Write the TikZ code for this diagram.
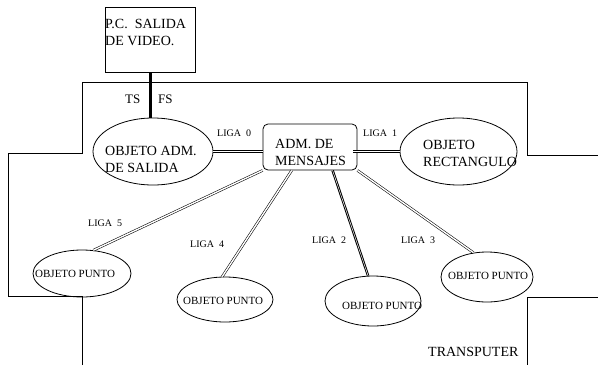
\documentclass[tikz,border=0pt]{standalone}
\usepackage{fontspec}
\setmainfont{Liberation Serif}
\usetikzlibrary{shapes.geometric,calc}
\begin{document}
\begin{tikzpicture}[x=1pt,y=-1pt,
  wire/.style={line width=0.8pt},
  link/.style={double, double distance=1.4pt, line width=0.55pt},
  darklink/.style={double, double distance=0.5pt, line width=1pt},
  obj/.style={ellipse, draw, line width=0.8pt, inner sep=0pt},
  big/.style={font=\fontsize{14}{17}\selectfont, align=left, inner sep=0pt, anchor=west},
  small/.style={font=\fontsize{11}{13}\selectfont, inner sep=0pt, anchor=west},
  liga/.style={font=\fontsize{10}{12}\selectfont, inner sep=0pt, anchor=west},
  tag/.style={font=\fontsize{13}{15}\selectfont, inner sep=0pt, anchor=west},
]
\useasboundingbox (0,0) rectangle (598,365);

% transputer outline
\draw[wire] (82,365) -- (82,296) -- (8,296) -- (8,153) -- (82,153) -- (82,82)
  -- (527,82) -- (527,155) -- (598,155);
\draw[wire] (598,297) -- (527,297) -- (527,365);

% shapes
\node[draw, wire, minimum width=90pt, minimum height=65pt, inner sep=0pt] (pc) at (150,39.5) {};
\node[obj, minimum width=120pt, minimum height=67pt] (osal) at (153,151.5) {};
\node[draw, wire, rounded corners=5pt, minimum width=94pt, minimum height=46pt, inner sep=0pt] (adm) at (310,147) {};
\node[obj, minimum width=117pt, minimum height=67pt] (orect) at (458.5,151.5) {};
\node[obj, minimum width=98pt, minimum height=47pt] (p1) at (82,273.5) {};
\node[obj, minimum width=96pt, minimum height=45pt] (p2) at (225,299.5) {};
\node[obj, minimum width=96pt, minimum height=50pt] (p3) at (373,301) {};
\node[obj, minimum width=92pt, minimum height=50pt] (p4) at (487,277) {};

% texts
\node[big] at (105,32.5) {P.C.\ \ SALIDA\\DE VIDEO.};
\node[big] at (105,159) {OBJETO ADM.\\DE SALIDA};
\node[big] at (275,152.5) {ADM. DE\\MENSAJES};
\node[big] at (423,153.5) {OBJETO\\RECTANGULO};
\node[small] at (35,274) {OBJETO PUNTO};
\node[small] at (183,301) {OBJETO PUNTO};
\node[small] at (342,306) {OBJETO PUNTO};
\node[small] at (448,276) {OBJETO PUNTO};
\node[big] at (428,352) {TRANSPUTER};
\node[tag] at (125,99) {TS};
\node[tag] at (158,99) {FS};

% links
\draw[line width=3pt] (pc.south) -- (pc.south |- osal.north);
\draw[link] (osal.east) -- (osal.east -| adm.west);
\draw[link] (orect.west) -- ($(orect.west -| adm.east)+(-4,0)$);
\draw[link] (adm.south west) -- (p1.64);
\draw[link] (adm.232) -- (p2.97);
\draw[darklink] (adm.-46) -- (p3.101);
\draw[link] (adm.south east) -- (p4.119);

% link labels
\node[liga] at (217,133) {LIGA\hspace{5pt}0};
\node[liga] at (363,133) {LIGA\hspace{5pt}1};
\node[liga] at (88,223) {LIGA\hspace{5pt}5};
\node[liga] at (190,244) {LIGA\hspace{5pt}4};
\node[liga] at (312,240) {LIGA\hspace{5pt}2};
\node[liga] at (401,240) {LIGA\hspace{5pt}3};
\end{tikzpicture}
\end{document}
